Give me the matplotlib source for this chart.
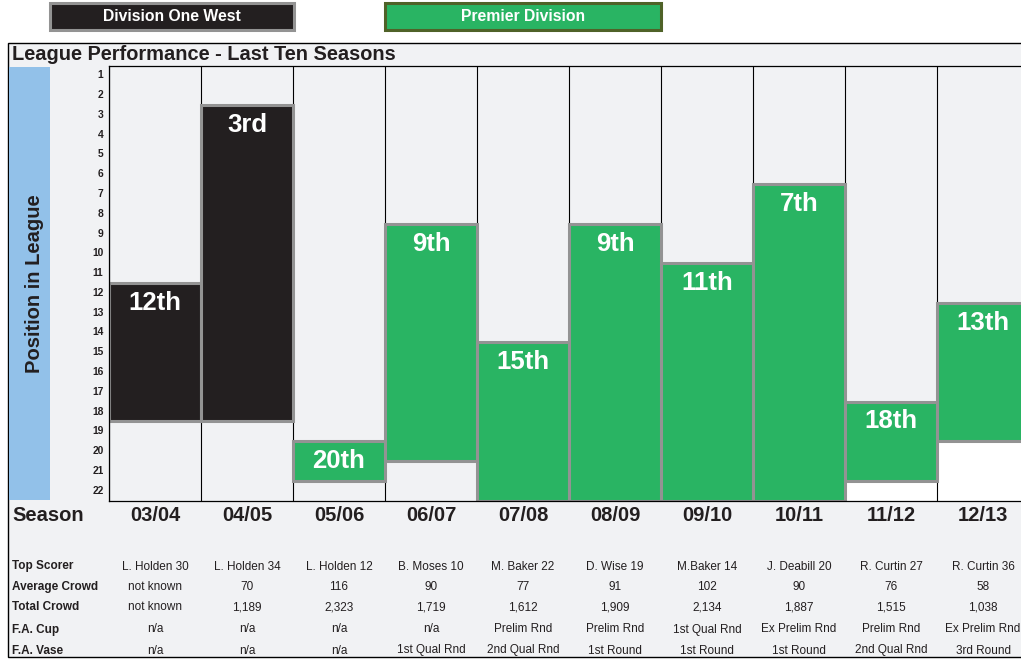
import matplotlib
matplotlib.use("Agg")
import matplotlib.pyplot as plt
from matplotlib.patches import Rectangle
from matplotlib.transforms import blended_transform_factory

plt.rcParams['font.family'] = ['Liberation Sans', 'DejaVu Sans']

# ---------------- data ----------------
seasons = ["03/04", "04/05", "05/06", "06/07", "07/08", "08/09", "09/10", "10/11", "11/12", "12/13"]
positions = [12, 3, 20, 9, 15, 9, 11, 7, 18, 13]
league_size = [18, 18, 21, 20, 22, 22, 22, 22, 21, 19]
division = ["D1W", "D1W", "PD", "PD", "PD", "PD", "PD", "PD", "PD", "PD"]
pos_labels = ["12th", "3rd", "20th", "9th", "15th", "9th", "11th", "7th", "18th", "13th"]
white_below = [False, False, False, False, False, False, False, False, True, True]

row_names = ["Top Scorer", "Average Crowd", "Total Crowd", "F.A. Cup", "F.A. Vase"]
top_scorer = ["L. Holden 30", "L. Holden 34", "L. Holden 12", "B. Moses 10", "M. Baker 22",
              "D. Wise 19", "M.Baker 14", "J. Deabill 20", "R. Curtin 27", "R. Curtin 36"]
avg_crowd = ["not known", "70", "116", "90", "77", "91", "102", "90", "76", "58"]
total_crowd = ["not known", "1,189", "2,323", "1,719", "1,612", "1,909", "2,134", "1,887", "1,515", "1,038"]
fa_cup = ["n/a", "n/a", "n/a", "n/a", "Prelim Rnd", "Prelim Rnd", "1st Qual Rnd",
          "Ex Prelim Rnd", "Prelim Rnd", "Ex Prelim Rnd"]
fa_vase = ["n/a", "n/a", "n/a", "1st Qual Rnd", "2nd Qual Rnd", "1st Round", "1st Round",
           "1st Round", "2nd Qual Rnd", "3rd Round"]
ytick_vals = list(range(1, 23))

# ---------------- styling ----------------
W, H = 1021, 660
BLACK = "#231F20"
GREEN = "#29B463"
EDGE = "#939393"
BG = "#F1F2F4"
BLUE = "#92C1E9"
TXT = "#231F20"
colors = {"D1W": BLACK, "PD": GREEN}
YMAX = 23

fig = plt.figure(figsize=(W / 100, H / 100), dpi=100, facecolor="white")

def fx(px):
    return px / W

def fy(py):
    return 1 - py / H

# outer frame
fig.patches.append(Rectangle((fx(8), fy(657)), fx(1030) - fx(8), fy(43) - fy(657),
                             transform=fig.transFigure, facecolor=BG, edgecolor="black",
                             lw=1.0, zorder=-5))
# blue band
fig.patches.append(Rectangle((fx(9), fy(500)), fx(50) - fx(9), fy(67) - fy(500),
                             transform=fig.transFigure, facecolor=BLUE, edgecolor="none",
                             zorder=-4))
fig.text(fx(34), fy(284), "Position in League", rotation=90, ha="center", va="center",
         fontsize=14.5, fontweight="bold", color=TXT)

# legend boxes
fig.patches.append(Rectangle((fx(50), fy(30)), fx(294) - fx(50), fy(3) - fy(30),
                             transform=fig.transFigure, facecolor=BLACK, edgecolor=EDGE,
                             lw=2.2, zorder=1))
fig.text(fx(172), fy(16.5), "Division One West", ha="center", va="center",
         fontsize=11.3, fontweight="bold", color="white")
fig.patches.append(Rectangle((fx(385), fy(30)), fx(661) - fx(385), fy(3) - fy(30),
                             transform=fig.transFigure, facecolor=GREEN, edgecolor="#4F6228",
                             lw=2.2, zorder=1))
fig.text(fx(523), fy(16.5), "Premier Division", ha="center", va="center",
         fontsize=11.3, fontweight="bold", color="white")

# title
fig.text(fx(12), fy(54.5), "League Performance - Last Ten Seasons", ha="left", va="center",
         fontsize=14.4, fontweight="bold", color=TXT)

# main axes
left_px, right_px = 109, 1029
top_px, bot_px = 65.5, 500.5
ax = fig.add_axes([fx(left_px), fy(bot_px), fx(right_px) - fx(left_px), fy(top_px) - fy(bot_px)],
                  zorder=2)
ax.set_facecolor(BG)
n = len(seasons)
x = list(range(n))
ax.set_xlim(-0.5, n - 0.5)
ax.set_ylim(YMAX, 1)

# white area under some bars
wx = [xi for xi, w in zip(x, white_below) if w]
wb = [s + 1 for s, w in zip(league_size, white_below) if w]
ax.bar(wx, [YMAX - b for b in wb], bottom=wb, width=1.0, color="white", lw=0, zorder=0.5)

for i in range(n + 1):
    ax.axvline(i - 0.5, color="black", lw=0.8, zorder=1)

heights = [s + 1 - p for s, p in zip(league_size, positions)]
ax.bar(x, heights, bottom=positions, width=1.0, color=[colors[d] for d in division],
       edgecolor=EDGE, linewidth=2.2, zorder=2)

for xi, p, lab in zip(x, positions, pos_labels):
    ax.annotate(lab, (xi, p), xytext=(0, -14.3), textcoords="offset points",
                ha="center", va="center", color="white", fontsize=18.5,
                fontweight="bold", zorder=3)

ax.set_yticks([v + 0.45 for v in ytick_vals])
ax.set_yticklabels([str(v) for v in ytick_vals], fontsize=7.4, fontweight="bold", color=TXT)
ax.tick_params(axis="y", length=0, pad=4)
ax.set_xticks([])
ax.spines["right"].set_visible(False)
for s in ["left", "top", "bottom"]:
    ax.spines[s].set_color("black")
    ax.spines[s].set_linewidth(0.9)

# season row and table
tr = blended_transform_factory(ax.transData, fig.transFigure)
fig.text(fx(12), fy(515.5), "Season", ha="left", va="center", fontsize=14.5,
         fontweight="bold", color=TXT)
for xi, s in zip(x, seasons):
    ax.text(xi, fy(515.5), s, transform=tr, ha="center", va="center", fontsize=14.5,
            fontweight="bold", color=TXT, clip_on=False)

rows = [top_scorer, avg_crowd, total_crowd, fa_cup, fa_vase]
row_y = [566.5, 587, 607.5, 629.5, 650.5]
for name, vals, yy in zip(row_names, rows, row_y):
    fig.text(fx(12), fy(yy), name, ha="left", va="center", fontsize=8.5,
             fontweight="bold", color=TXT)
    for xi, v in zip(x, vals):
        ax.text(xi, fy(yy), v, transform=tr, ha="center", va="center", fontsize=8.5,
                color=TXT, clip_on=False)

fig.savefig("out.png", dpi=100, facecolor="white")
